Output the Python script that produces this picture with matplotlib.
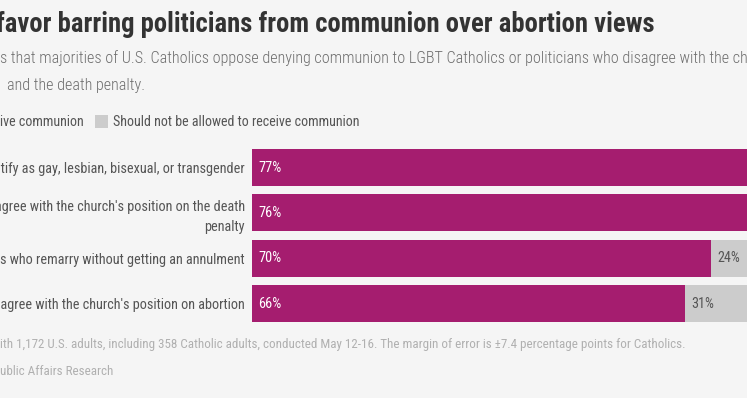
import matplotlib
matplotlib.use('Agg')
import matplotlib.pyplot as plt
import numpy as np

# data
categories = ["ntify as gay, lesbian, bisexual, or transgender",
              "agree with the church's position on the death\npenalty",
              "s who remarry without getting an annulment",
              "sagree with the church's position on abortion"]
allowed = [77, 76, 70, 66]
not_allowed = [21, 22, 24, 31]

title = "favor barring politicians from communion over abortion views"
subtitle = ("s that majorities of U.S. Catholics oppose denying communion to LGBT Catholics "
            "or politicians who disagree with the church's position on abortion")
subtitle2 = "and the death penalty."
legend_labels = ["ive communion", "Should not be allowed to receive communion"]
note = ("ith 1,172 U.S. adults, including 358 Catholic adults, conducted May 12-16. "
        "The margin of error is \u00b17.4 percentage points for Catholics.")
source = "ublic Affairs Research"

magenta = "#a51d6f"
grey = "#cccccc"
bg = "#f5f5f5"

plt.rcParams['font.family'] = ['Roboto Condensed', 'Barlow Condensed', 'Archivo Narrow', 'DejaVu Sans']

W, H = 747, 398
fig = plt.figure(figsize=(W / 100, H / 100), dpi=100, facecolor=bg)

# bars: left edge at 252px, 100% = 656px
ax = fig.add_axes([252 / W, 1 - 326.2 / H, 656 / W, 181.3 / H])
ax.set_facecolor(bg)
y = np.arange(len(categories))
ax.barh(y, allowed, height=0.816, color=magenta)
ax.barh(y, not_allowed, left=allowed, height=0.816, color=grey)
ax.set_xlim(0, 100)
ax.set_ylim(3.5, -0.5)
for s in ax.spines.values():
    s.set_visible(False)
ax.set_xticks([])
ax.set_yticks(y)
ax.set_yticklabels(categories, fontsize=10.3, color="#555555", ha='right',
                   multialignment='right', linespacing=1.55)
ax.tick_params(axis='y', length=0, pad=5)

for i in range(len(categories)):
    ax.text(0.9, i, f"{allowed[i]}%", color="white", fontsize=10.4,
            va='center', ha='left')
    ax.text(allowed[i] + 0.9, i, f"{not_allowed[i]}%", color="#555555",
            fontsize=10.2, va='center', ha='left')

# text blocks (pixel positions from top)
def px(x, yy):
    return x / W, 1 - yy / H

fig.text(*px(-4, 32), title, fontsize=19.2, fontweight='bold', color="#333333", va='baseline')
fig.text(*px(0, 63), subtitle, fontsize=11.6, fontweight='light', color="#6e6e6e", va='baseline')
fig.text(*px(7, 90), subtitle2, fontsize=11.6, fontweight='light', color="#6e6e6e", va='baseline')

fig.text(*px(0, 126), legend_labels[0], fontsize=10.1, color="#555555", va='baseline')
fig.patches.append(plt.Rectangle(px(95, 128), 13 / W, 13 / H, transform=fig.transFigure,
                                 facecolor=grey, edgecolor='none'))
fig.text(*px(113, 126), legend_labels[1], fontsize=10.1, color="#555555", va='baseline')

fig.text(*px(0, 348), note, fontsize=9.4, color="#b0b0b0", va='baseline')
fig.text(*px(0, 375), source, fontsize=9.4, color="#b0b0b0", va='baseline')

fig.savefig("out.png", dpi=100, facecolor=bg)
